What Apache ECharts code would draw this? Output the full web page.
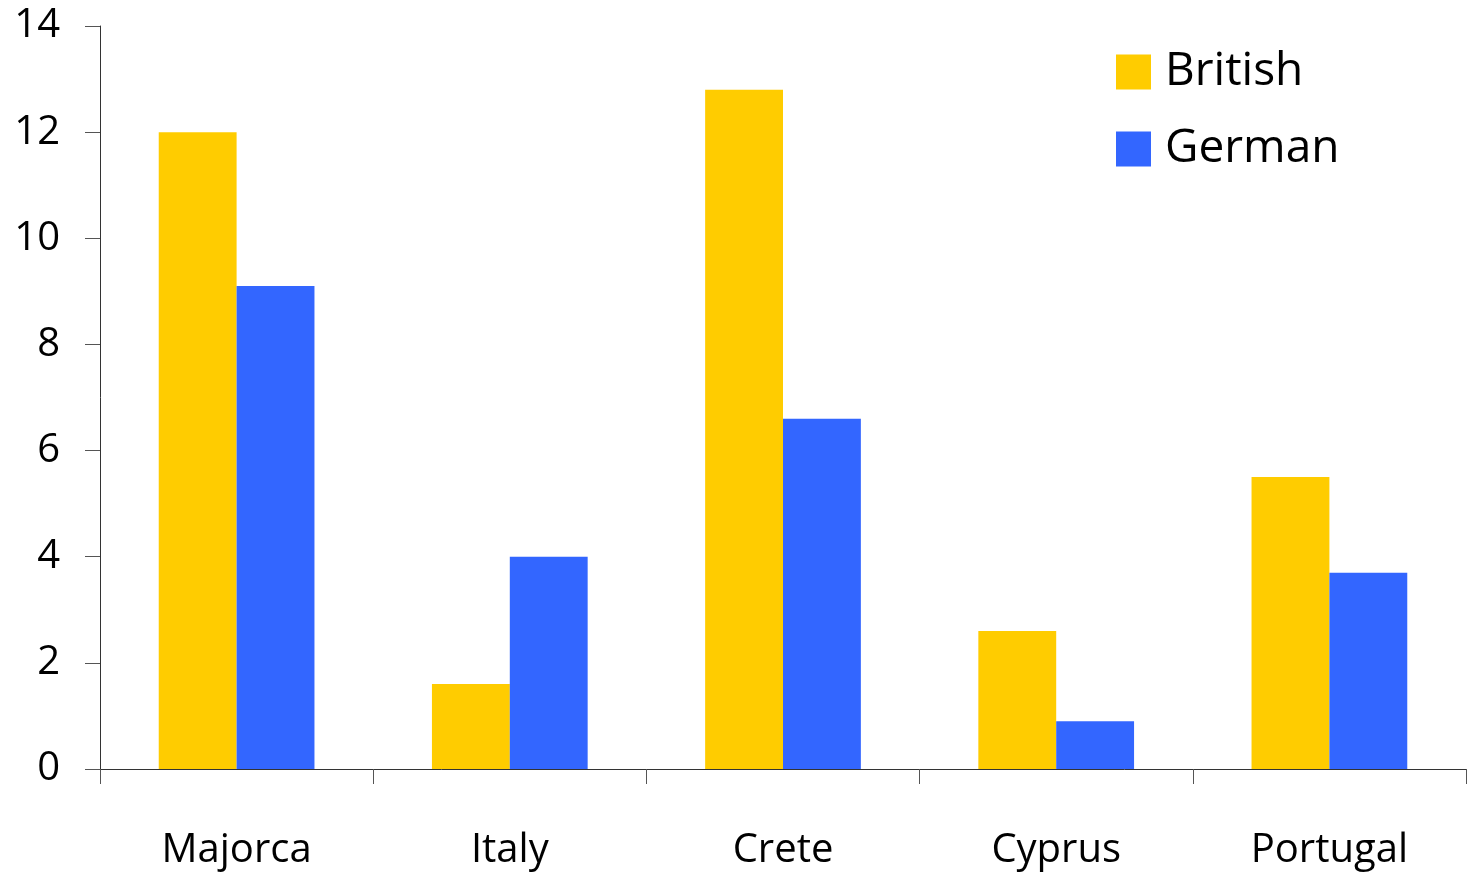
<!DOCTYPE html>
<html>
<head>
<meta charset="utf-8">
<script src="https://cdn.jsdelivr.net/npm/echarts@6/dist/echarts.min.js"></script>
<style>html,body{margin:0;padding:0;background:#fff}#c{width:1470px;height:872px}</style>
</head>
<body>
<div id="c"></div>
<script>
const categories = ['Majorca', 'Italy', 'Crete', 'Cyprus', 'Portugal'];
const british = [12.0, 1.6, 12.8, 2.6, 5.5];
const german = [9.1, 4.0, 6.6, 0.9, 3.7];
const seriesNames = ['British', 'German'];

const chart = echarts.init(document.getElementById('c'));
const font = "'Open Sans', 'Noto Sans', sans-serif";
chart.setOption({
  animation: false,
  backgroundColor: '#fff',
  grid: { left: 100, right: 4, top: 26, bottom: 103, containLabel: false },
  legend: {
    orient: 'vertical',
    left: 1116,
    top: 49,
    padding: 0,
    itemWidth: 35,
    itemHeight: 35,
    itemGap: 31,
    icon: 'rect',
    textStyle: { fontSize: 46, fontFamily: font, color: '#000', lineHeight: 46, padding: [0, 0, 0, 9] },
    data: seriesNames
  },
  xAxis: {
    type: 'category',
    data: categories,
    boundaryGap: true,
    axisLine: { lineStyle: { color: '#333', width: 1 } },
    axisTick: { show: true, length: 15, inside: false, lineStyle: { color: '#555' } },
    axisLabel: { fontSize: 40, fontFamily: font, color: '#000', margin: 62 },
    splitLine: { show: false }
  },
  yAxis: {
    type: 'value',
    min: 0, max: 14, interval: 2,
    axisLine: { show: true, lineStyle: { color: '#333', width: 1 } },
    axisTick: { show: true, length: 15, lineStyle: { color: '#555' } },
    axisLabel: { fontSize: 40, fontFamily: font, color: '#000', margin: 40, padding: [8, 0, 0, 0] },
    splitLine: { show: false }
  },
  series: [
    { name: seriesNames[0], type: 'bar', data: british, itemStyle: { color: '#FFCC00' }, barGap: '0%', barCategoryGap: '43%' },
    { name: seriesNames[1], type: 'bar', data: german, itemStyle: { color: '#3366FF' }, barGap: '0%', barCategoryGap: '43%' }
  ]
});
</script>
</body>
</html>
